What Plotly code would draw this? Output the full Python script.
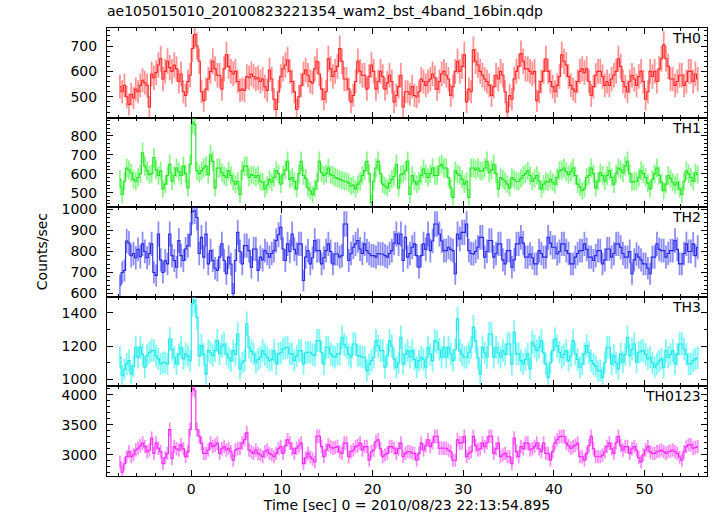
import numpy as np
import plotly.graph_objects as go
from plotly.subplots import make_subplots

# ---- data -------------------------------------------------------------
t_start = -7.875          # centre of first bin [sec]
bin_width = 0.25          # 16 x 1/64 s

th0 = [540, 520, 545, 500, 470, 510, 495, 530, 520, 545, 565, 555, 545, 460, 590, 575,
       595, 625, 650, 570, 600, 640, 615, 600, 625, 610, 560, 590, 520, 505, 560, 585,
       690, 745, 700, 640, 520, 485, 530, 570, 600, 640, 610, 585, 585, 530, 610, 665,
       620, 600, 590, 600, 560, 525, 530, 525, 580, 575, 590, 580, 570, 575, 560, 570,
       540, 525, 605, 570, 490, 450, 520, 580, 610, 625, 645, 600, 560, 520, 450, 500,
       545, 590, 605, 585, 560, 555, 610, 640, 590, 530, 490, 520, 650, 610, 580, 600,
       620, 690, 640, 570, 570, 530, 480, 505, 560, 640, 600, 585, 585, 530, 580, 625,
       600, 530, 560, 600, 580, 530, 555, 585, 560, 480, 505, 540, 585, 460, 520, 520,
       510, 540, 505, 500, 520, 570, 560, 545, 560, 570, 590, 575, 530, 560, 590, 600,
       585, 570, 505, 540, 600, 640, 600, 620, 665, 480, 530, 520, 685, 640, 625, 600,
       585, 570, 560, 545, 505, 540, 585, 570, 600, 585, 520, 440, 505, 490, 570, 600,
       620, 670, 640, 610, 610, 600, 590, 600, 485, 520, 560, 600, 650, 600, 560, 540,
       520, 545, 580, 665, 640, 625, 580, 545, 530, 520, 560, 600, 610, 595, 610, 560,
       505, 540, 585, 600, 600, 580, 545, 560, 545, 570, 585, 600, 650, 620, 560, 540,
       520, 560, 585, 570, 545, 580, 600, 560, 490, 520, 600, 580, 600, 560, 610, 650,
       705, 650, 620, 570, 570, 545, 560, 585, 585, 545, 560, 600, 600, 560, 590, 570]

th1 = [570, 490, 560, 630, 620, 605, 570, 560, 580, 600, 710, 640, 615, 595, 600, 685,
       620, 590, 615, 520, 545, 590, 650, 560, 590, 630, 610, 590, 640, 600, 525, 650,
       870, 860, 615, 600, 615, 630, 640, 595, 700, 665, 525, 630, 630, 605, 590, 580,
       615, 590, 560, 545, 560, 490, 615, 640, 640, 580, 595, 590, 580, 590, 560, 555,
       520, 540, 570, 555, 580, 615, 600, 545, 595, 620, 665, 570, 580, 560, 520, 600,
       665, 590, 575, 525, 510, 490, 520, 560, 665, 605, 590, 600, 630, 595, 590, 580,
       575, 570, 565, 560, 560, 550, 535, 540, 520, 545, 560, 590, 615, 665, 600, 447,
       560, 630, 665, 600, 545, 535, 525, 550, 570, 585, 650, 525, 595, 600, 615, 665,
       490, 590, 560, 545, 560, 590, 625, 600, 580, 600, 630, 590, 590, 640, 650, 630,
       630, 580, 525, 475, 615, 600, 590, 570, 545, 560, 475, 630, 630, 620, 630, 615,
       615, 630, 665, 605, 620, 650, 600, 520, 580, 570, 560, 545, 525, 580, 570, 560,
       560, 575, 590, 600, 615, 590, 560, 575, 590, 560, 520, 545, 560, 555, 570, 555,
       545, 580, 615, 620, 630, 610, 595, 610, 630, 590, 545, 530, 510, 520, 580, 590,
       630, 600, 525, 560, 605, 590, 560, 590, 615, 580, 545, 600, 630, 620, 605, 640,
       665, 600, 555, 560, 560, 580, 615, 600, 580, 550, 520, 570, 600, 630, 590, 555,
       510, 545, 590, 575, 555, 540, 555, 520, 490, 560, 615, 600, 580, 560, 605, 595]

th2 = [640, 700, 710, 850, 840, 780, 790, 770, 810, 775, 836, 800, 770, 790, 836, 700,
       686, 883, 760, 700, 757, 741, 883, 780, 757, 725, 852, 780, 757, 812, 828, 880,
       990, 994, 962, 790, 867, 773, 883, 741, 804, 757, 720, 710, 773, 836, 757, 694,
       773, 740, 600, 757, 891, 800, 741, 828, 828, 804, 725, 812, 812, 710, 773, 760,
       804, 790, 773, 790, 804, 852, 880, 915, 812, 757, 836, 800, 883, 810, 788, 836,
       836, 662, 773, 804, 741, 770, 852, 804, 804, 741, 770, 804, 836, 800, 741, 788,
       788, 773, 780, 931, 931, 757, 790, 820, 836, 852, 812, 790, 836, 804, 790, 780,
       780, 773, 790, 788, 788, 780, 773, 790, 804, 840, 883, 836, 883, 757, 867, 773,
       790, 820, 836, 780, 725, 780, 836, 810, 883, 804, 850, 931, 931, 883, 850, 804,
       804, 820, 810, 804, 694, 883, 860, 891, 891, 931, 804, 790, 788, 800, 820, 867,
       867, 773, 800, 852, 852, 773, 790, 836, 836, 760, 741, 804, 804, 725, 760, 836,
       836, 867, 840, 773, 773, 788, 770, 741, 741, 804, 790, 773, 773, 867, 840, 820,
       820, 788, 800, 836, 836, 804, 790, 741, 741, 773, 790, 804, 804, 836, 810, 773,
       773, 757, 780, 804, 804, 741, 760, 812, 812, 773, 790, 836, 836, 820, 790, 773,
       773, 800, 694, 760, 788, 773, 760, 741, 741, 720, 694, 773, 773, 836, 810, 804,
       804, 773, 790, 804, 804, 852, 810, 741, 741, 790, 836, 800, 800, 836, 780, 820]

th3 = [1133, 1022, 1060, 1093, 1113, 1032, 1080, 1193, 1133, 1193, 1150, 1073, 1143, 1160, 1173, 1173,
       1140, 1123, 1093, 1100, 1103, 1093, 1243, 1180, 1133, 1093, 1150, 1193, 1123, 1153, 1140, 1113,
       1454, 1474, 1374, 1143, 1203, 1150, 1032, 1173, 1160, 1143, 1173, 1233, 1153, 1200, 1213, 1153,
       1130, 1113, 1173, 1150, 1273, 1063, 1100, 1113, 1334, 1193, 1170, 1153, 1103, 1120, 1133, 1173,
       1150, 1133, 1113, 1120, 1173, 1093, 1153, 1160, 1183, 1190, 1193, 1153, 1153, 1113, 1140, 1173,
       1173, 1093, 1160, 1163, 1163, 1150, 1143, 1233, 1233, 1163, 1093, 1193, 1193, 1153, 1140, 1133,
       1153, 1153, 1253, 1210, 1193, 1150, 1133, 1213, 1213, 1143, 1140, 1133, 1133, 1053, 1090, 1113,
       1133, 1233, 1200, 1173, 1173, 1073, 1143, 1233, 1200, 1123, 1073, 1100, 1253, 1093, 1150, 1173,
       1133, 1173, 1120, 1073, 1113, 1133, 1120, 1073, 1193, 1150, 1113, 1233, 1223, 1180, 1133, 1193,
       1133, 1193, 1153, 1113, 1180, 1364, 1173, 1150, 1133, 1133, 1160, 1193, 1314, 1230, 1130, 1032,
       1193, 1160, 1133, 1273, 1273, 1133, 1193, 1160, 1133, 1173, 1150, 1213, 1213, 1093, 1283, 1153,
       1153, 1113, 1093, 1120, 1153, 1063, 1223, 1200, 1173, 1193, 1233, 1160, 1093, 1012, 1100, 1173,
       1243, 1200, 1163, 1133, 1150, 1173, 1113, 1140, 1233, 1153, 1120, 1073, 1093, 1153, 1203, 1160,
       1113, 1093, 1080, 1053, 1053, 1012, 1100, 1193, 1193, 1093, 1143, 1100, 1063, 1153, 1103, 1150,
       1253, 1143, 1180, 1213, 1103, 1163, 1170, 1173, 1150, 1123, 1133, 1100, 1073, 1093, 1110, 1123,
       1073, 1173, 1133, 1150, 1173, 1093, 1150, 1213, 1213, 1183, 1150, 1093, 1093, 1113, 1123, 1130]

th0123 = [2881, 2710, 2850, 2966, 3051, 2966, 3000, 3080, 3108, 3150, 3193, 3136, 3051, 3080, 3278, 3023,
          3193, 3108, 3050, 2852, 2950, 3023, 3420, 2937, 3136, 3100, 3080, 3165, 3100, 2966, 3051, 3420,
          4102, 4074, 3420, 3307, 3193, 3023, 3023, 3080, 3193, 3136, 3160, 3193, 3023, 3100, 3136, 3080,
          3108, 3050, 2909, 3080, 3100, 3108, 3193, 3250, 3364, 3080, 3050, 3023, 3080, 3023, 3000, 2966,
          3050, 3080, 3023, 3000, 2966, 3023, 3100, 3136, 3023, 3150, 3250, 3193, 3100, 3023, 3108, 3150,
          3193, 2852, 2950, 3023, 2966, 2930, 2881, 3307, 3307, 3136, 2966, 3080, 3165, 3130, 3108, 3120,
          3136, 3050, 3023, 3193, 3193, 2966, 3050, 3080, 3136, 3150, 3193, 3080, 3136, 3136, 2909, 3050,
          3080, 3221, 3250, 3100, 2966, 3000, 3023, 3136, 3136, 3108, 3023, 3100, 3193, 2966, 3023, 3051,
          3051, 3030, 3023, 2909, 3023, 3193, 3080, 3150, 3250, 3136, 3200, 3307, 3307, 3108, 3110, 3108,
          3108, 3080, 3050, 2909, 2909, 3250, 3193, 3200, 3307, 2966, 3023, 3050, 3307, 3150, 3080, 3100,
          3193, 3136, 3200, 3307, 3307, 3023, 3100, 3193, 2966, 3000, 3023, 2966, 2966, 2852, 3278, 3050,
          2966, 3136, 3100, 3193, 3193, 3080, 3100, 3136, 3193, 3100, 3051, 3193, 3023, 3023, 2909, 3050,
          3193, 3250, 3300, 3307, 3307, 3193, 3150, 3108, 3136, 3160, 3193, 2966, 2966, 2909, 3023, 3150,
          3307, 3100, 2966, 2966, 2966, 2994, 3050, 3136, 3193, 3100, 3023, 3200, 3307, 3150, 3080, 3136,
          3136, 3023, 3100, 3136, 3080, 2950, 2881, 3000, 3080, 3136, 3050, 3023, 3023, 3051, 3060, 3080,
          3050, 3023, 3051, 3060, 3080, 3050, 3023, 2960, 2909, 3050, 3136, 3165, 3165, 3108, 3120, 3136]

series = [th0, th1, th2, th3, th0123]
panel_names = ["TH0", "TH1", "TH2", "TH3", "TH0123"]
y_ranges = [[418, 771], [423, 896], [584, 1011], [958, 1496], [2647, 4137]]
y_dticks = [100, 100, 100, 200, 500]
y_minor = [20, 20, 20, 100, 100]
x_range = [-9.3, 56.9]

title_text = "ae105015010_20100823221354_wam2_bst_4band_16bin.qdp"
x_title = "Time [sec] 0 = 2010/08/23 22:13:54.895"
y_title = "Counts/sec"

line_colors = ["#ff2626", "#1fe61f", "#2828e8", "#1fe8e8", "#f326f3"]
err_colors = ["rgba(255,60,60,0.55)", "rgba(40,240,40,0.55)", "rgba(50,50,240,0.55)",
              "rgba(40,240,240,0.6)", "rgba(250,50,250,0.55)"]

FONT = "DejaVu Sans"

# ---- figure -----------------------------------------------------------
fig = make_subplots(rows=5, cols=1, shared_xaxes=True, vertical_spacing=0)

for i, vals in enumerate(series):
    assert len(vals) == 256, (panel_names[i], len(vals))
    y = np.array(vals, dtype=float)
    t = t_start + bin_width * np.arange(len(y))
    err = np.sqrt(y / bin_width)  # Poisson error of a rate
    fig.add_trace(go.Scatter(
        x=t, y=y, mode="lines",
        line=dict(color=line_colors[i], width=1.1, shape="hvh"),
        error_y=dict(type="data", array=err, color=err_colors[i], thickness=1.8, width=0),
        showlegend=False, hoverinfo="skip"),
        row=i + 1, col=1)
    fig.update_yaxes(range=y_ranges[i], dtick=y_dticks[i], tick0=0,
                     minor=dict(dtick=y_minor[i], tick0=0, ticks="inside", ticklen=3,
                                tickcolor="black", showgrid=False),
                     row=i + 1, col=1)
    fig.add_annotation(text=panel_names[i], xref="x domain", yref="y domain",
                       x=0.994, y=1.0, xanchor="right", yanchor="top",
                       xshift=0, yshift=0, showarrow=False,
                       font=dict(family=FONT, size=14, color="black"),
                       row=i + 1, col=1)

fig.update_xaxes(range=x_range, showline=True, linecolor="black", linewidth=1,
                 mirror="allticks", ticks="inside", ticklen=6, tickcolor="black",
                 dtick=10, tick0=0, showgrid=False, zeroline=False, automargin=False,
                 minor=dict(dtick=2, tick0=0, ticks="inside", ticklen=3,
                            tickcolor="black", showgrid=False),
                 tickfont=dict(family=FONT, size=14, color="black"))
fig.update_yaxes(showline=True, linecolor="black", linewidth=1, mirror="allticks",
                 ticks="inside", ticklen=6, tickcolor="black", showgrid=False,
                 zeroline=False, ticklabelstandoff=6, automargin=False,
                 tickfont=dict(family=FONT, size=14, color="black"))
fig.update_xaxes(title=dict(text=x_title, standoff=2,
                            font=dict(family=FONT, size=14, color="black")),
                 row=5, col=1)

fig.add_annotation(text=y_title, xref="paper", yref="paper", x=-0.108, y=0.5,
                   xanchor="center", yanchor="middle", textangle=-90, showarrow=False,
                   font=dict(family=FONT, size=14, color="black"))

fig.update_layout(
    width=717, height=516,
    margin=dict(l=107, r=10, t=28, b=40, autoexpand=False),
    paper_bgcolor="white", plot_bgcolor="white",
    title=dict(text=title_text, x=0, xref="paper", xanchor="left",
               y=1 - 11 / 516, yref="container", yanchor="middle", automargin=False,
               font=dict(family=FONT, size=14, color="black")),
    font=dict(family=FONT, color="black"),
)

fig.write_html("out.html", config={"displayModeBar": False},
               post_script="document.body.style.margin='0px';document.body.style.padding='0px';")
